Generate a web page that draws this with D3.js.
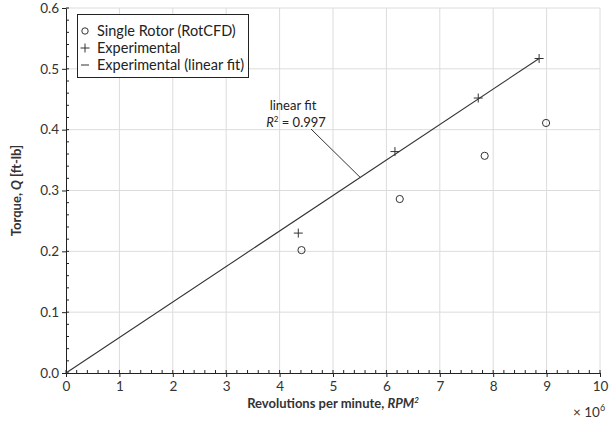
<!DOCTYPE html>
<html>
<head>
<meta charset="utf-8">
<script src="https://cdn.jsdelivr.net/npm/d3@7"></script>
<style>
body { margin: 0; background: #fff; }
text { font-family: Lato, "Open Sans", sans-serif; fill: #222; }
</style>
</head>
<body>
<script>
// data (x in units of 1e6 RPM^2)
var cfdX = [4.41, 6.25, 7.84, 8.99];
var cfdY = [0.202, 0.286, 0.357, 0.411];
var expX = [4.35, 6.16, 7.72, 8.86];
var expY = [0.230, 0.364, 0.452, 0.517];
var fitX = [0, 8.86];
var fitY = [0, 0.517];
var xTicks = [0, 1, 2, 3, 4, 5, 6, 7, 8, 9, 10];
var yTicks = [0.0, 0.1, 0.2, 0.3, 0.4, 0.5, 0.6];
var legendLabels = ["Single Rotor (RotCFD)", "Experimental", "Experimental (linear fit)"];

var W = 615, H = 425;
var mL = 66, mR = 600, mT = 8, mB = 373;

var svg = d3.select("body").append("svg")
    .attr("width", W)
    .attr("height", H);

var x = d3.scaleLinear().domain([0, 10]).range([mL, mR]);
var y = d3.scaleLinear().domain([0, 0.6]).range([mB, mT]);

/*==================== GRID ====================*/
svg.append("g").selectAll("line").data(xTicks.slice(1)).enter().append("line")
    .attr("x1", function(d) { return x(d); })
    .attr("x2", function(d) { return x(d); })
    .attr("y1", mT).attr("y2", mB)
    .attr("stroke", "#dcdcdc").attr("stroke-width", 1);
svg.append("g").selectAll("line").data(yTicks.slice(1)).enter().append("line")
    .attr("y1", function(d) { return y(d); })
    .attr("y2", function(d) { return y(d); })
    .attr("x1", mL).attr("x2", mR)
    .attr("stroke", "#dcdcdc").attr("stroke-width", 1);

/*==================== AXES ====================*/
var xMinor = d3.range(0, 10.001, 0.2);
var yMinor = d3.range(0, 0.6001, 0.02);

var xAxis = svg.append("g").attr("transform", "translate(0," + mB + ")");
xAxis.call(d3.axisBottom(x).tickValues(xTicks).tickSize(4).tickSizeOuter(0).tickFormat(d3.format("d")));
xAxis.select(".domain").attr("stroke", "#222");
xAxis.selectAll(".tick line").attr("stroke", "#222");
xAxis.selectAll("text").style("font-size", "13.5px").style("fill", "#333").attr("y", 8);
xAxis.append("g").selectAll("line").data(xMinor).enter().append("line")
    .attr("x1", function(d) { return x(d); })
    .attr("x2", function(d) { return x(d); })
    .attr("y1", 0).attr("y2", -3)
    .attr("stroke", "#222");

var yAxis = svg.append("g").attr("transform", "translate(" + mL + ",0)");
yAxis.call(d3.axisLeft(y).tickValues(yTicks).tickSize(4).tickSizeOuter(0).tickFormat(d3.format(".1f")));
yAxis.select(".domain").attr("stroke", "#222");
yAxis.selectAll(".tick line").attr("stroke", "#222");
yAxis.selectAll("text").style("font-size", "13.5px").style("fill", "#333").attr("x", -7);
yAxis.append("g").selectAll("line").data(yMinor).enter().append("line")
    .attr("y1", function(d) { return y(d); })
    .attr("y2", function(d) { return y(d); })
    .attr("x1", 0).attr("x2", 3)
    .attr("stroke", "#222");

// axis titles
var xt = svg.append("text")
    .attr("x", (mL + mR) / 2).attr("y", 408)
    .attr("text-anchor", "middle")
    .style("font-size", "13px").style("font-weight", "bold").style("fill", "#333");
xt.append("tspan").text("Revolutions per minute, ");
xt.append("tspan").style("font-style", "italic").text("RPM");
xt.append("tspan").attr("dy", -5).style("font-size", "8px").style("font-style", "italic").text("2");

var yt = svg.append("text")
    .attr("transform", "translate(21," + ((mT + mB) / 2) + ") rotate(-90)")
    .attr("text-anchor", "middle")
    .style("font-size", "13px").style("font-weight", "bold").style("fill", "#333");
yt.append("tspan").text("Torque, ");
yt.append("tspan").style("font-style", "italic").text("Q");
yt.append("tspan").text(" [ft-lb]");

var mult = svg.append("text")
    .attr("x", 573).attr("y", 417)
    .style("font-size", "13.5px").style("fill", "#333");
mult.append("tspan").text("\u00d7 10");
mult.append("tspan").attr("dy", -6).style("font-size", "9px").text("6");

/*==================== DATA ====================*/
svg.append("path")
    .datum(d3.zip(fitX, fitY))
    .attr("d", d3.line().x(function(d) { return x(d[0]); }).y(function(d) { return y(d[1]); }))
    .attr("fill", "none").attr("stroke", "#333").attr("stroke-width", 1.1);

svg.append("g").selectAll("circle").data(d3.zip(cfdX, cfdY)).enter().append("circle")
    .attr("cx", function(d) { return x(d[0]); })
    .attr("cy", function(d) { return y(d[1]); })
    .attr("r", 3.6)
    .attr("fill", "none").attr("stroke", "#333").attr("stroke-width", 1);

svg.append("g").selectAll("path").data(d3.zip(expX, expY)).enter().append("path")
    .attr("transform", function(d) { return "translate(" + x(d[0]) + "," + y(d[1]) + ")"; })
    .attr("d", "M-4.5,0H4.5M0,-4.5V4.5")
    .attr("stroke", "#333").attr("stroke-width", 1);

/*==================== ANNOTATION ====================*/
var annX = 5.51;
svg.append("line")
    .attr("x1", 311).attr("y1", 129)
    .attr("x2", x(annX)).attr("y2", y(annX * fitY[1] / fitX[1]))
    .attr("stroke", "#333").attr("stroke-width", 1);
svg.append("text").attr("x", 293).attr("y", 110)
    .attr("text-anchor", "middle").style("font-size", "13px").text("linear fit");
var r2 = svg.append("text").attr("x", 296).attr("y", 127)
    .attr("text-anchor", "middle").style("font-size", "13px");
r2.append("tspan").style("font-style", "italic").text("R");
r2.append("tspan").attr("dy", -5).style("font-size", "8px").text("2");
r2.append("tspan").attr("dy", 5).text(" = 0.997");

/*==================== LEGEND ====================*/
var lg = svg.append("g");
lg.append("rect")
    .attr("x", 77.5).attr("y", 14.5).attr("width", 171).attr("height", 63)
    .attr("fill", "#fff").attr("stroke", "#222").attr("stroke-width", 1);
var rowY = [31, 48, 65];
lg.selectAll("text").data(legendLabels).enter().append("text")
    .attr("x", 97).attr("y", function(d, i) { return rowY[i] + 5; })
    .style("font-size", "14.5px")
    .text(function(d) { return d; });
lg.append("circle").attr("cx", 85).attr("cy", rowY[0]).attr("r", 3.2)
    .attr("fill", "none").attr("stroke", "#333");
lg.append("path").attr("transform", "translate(85," + rowY[1] + ")")
    .attr("d", "M-4.5,0H4.5M0,-4.5V4.5").attr("stroke", "#333");
lg.append("line").attr("x1", 81).attr("x2", 89).attr("y1", rowY[2]).attr("y2", rowY[2])
    .attr("stroke", "#333");
</script>
</body>
</html>
